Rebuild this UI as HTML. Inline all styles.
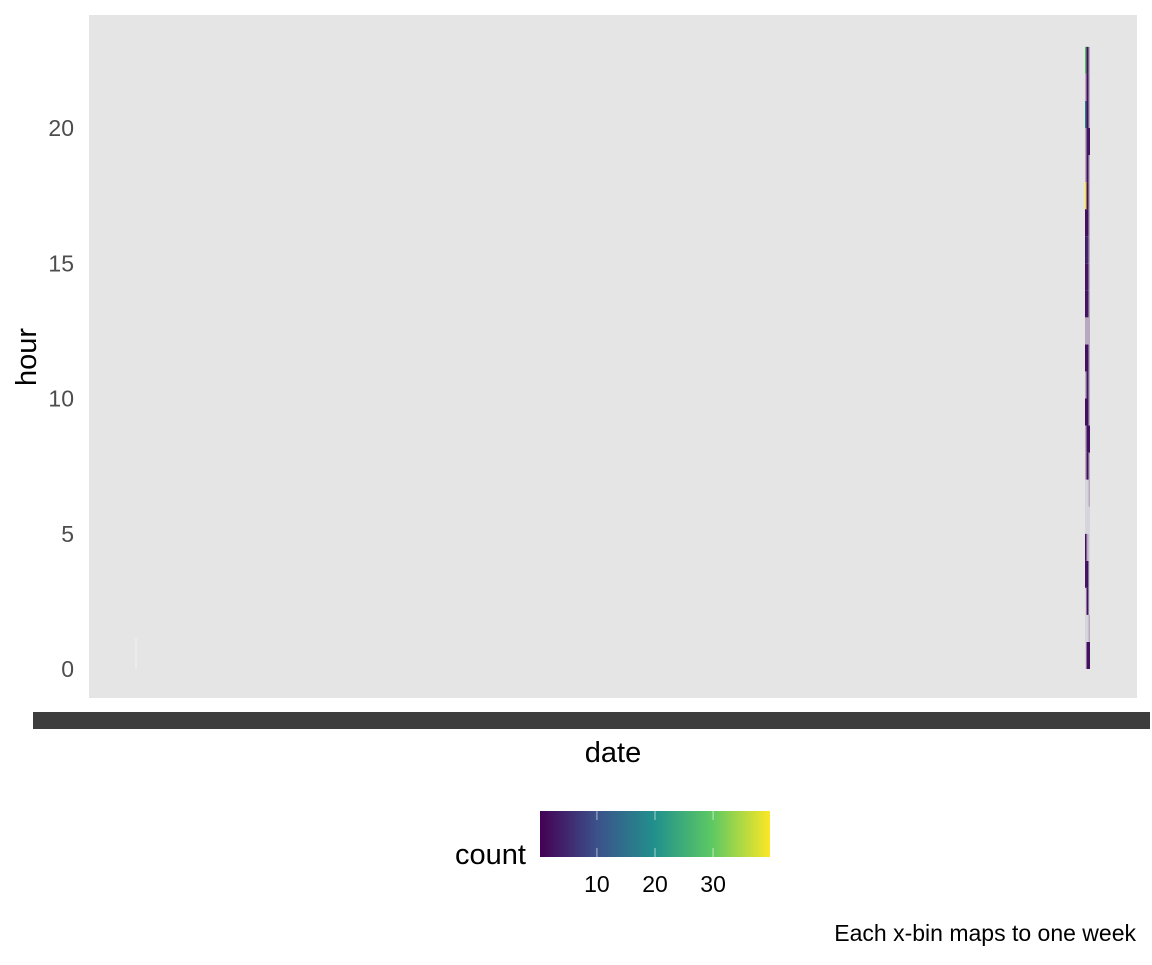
<!DOCTYPE html>
<html><head><meta charset="utf-8"><style>
body{margin:0;background:#fff;font-family:"Liberation Sans",sans-serif}
</style></head><body>
<svg id="chart" width="1152" height="960" xmlns="http://www.w3.org/2000/svg">
<defs><linearGradient id="vir" x1="0" x2="1">
<stop offset="0" stop-color="#440154"/><stop offset="0.25" stop-color="#3b528b"/><stop offset="0.5" stop-color="#21918c"/><stop offset="0.75" stop-color="#5ec962"/><stop offset="1" stop-color="#fde725"/></linearGradient></defs>
<rect x="89" y="15" width="1048" height="683" fill="#e5e5e5"/>
<g id="tiles"></g>
<line x1="136" x2="136" y1="638" y2="668" stroke="#f2f2f2" stroke-width="1"/>
<g id="yticks"></g>
<rect x="33" y="712" width="1117" height="17" fill="#3d3d3d"/>
<text x="613" y="762" font-size="29" text-anchor="middle" fill="#000">date</text>
<text x="36" y="357" font-size="29" text-anchor="middle" fill="#000" transform="rotate(-90 36 357)">hour</text>
<text x="526" y="864" font-size="29" text-anchor="end" fill="#000">count</text>
<rect x="540" y="811" width="230" height="46" fill="url(#vir)"/>
<g id="legticks"></g>
<text x="1136" y="941" font-size="23" text-anchor="end" fill="#000">Each x-bin maps to one week</text>
</svg>
<script>
const hours=[0,1,2,3,4,5,6,7,8,9,10,11,12,13,14,15,16,17,18,19,20,21,22];
const countA=[0,0,0,3,2,0,0,1,1,2,1,2,1,2,2,3,2,39,1,1,17,1,28];
const countB=[2,0,2,2,1,0,0,2,2,2,3,2,1,3,3,5,2,2,2,3,2,2,2];
const countC=[2,1,0,0,0,0,1,1,2,1,1,1,1,1,1,1,1,1,1,2,1,1,1];
const yTicks=[0,5,10,15,20];
const legTicks=[10,20,30];
const NS="http://www.w3.org/2000/svg";
const y=h=>669-h*27.05;
const lx=c=>540+(c-0.2)*(230/39.6);
function vir(c){const t=Math.max(0,Math.min(1,(c-0.2)/39.6));
const s=[[68,1,84],[59,82,139],[33,145,140],[94,201,98],[253,231,37]];
const p=t*4,i=Math.min(3,Math.floor(p)),f=p-i;
return 'rgb('+s[i].map((v,k)=>Math.round(v+(s[i+1][k]-v)*f)).join(',')+')';}
function col(c){return c<=0?'#d8d4dc':(c<2?'#b8a8c0':vir(c));}
const g=document.getElementById('tiles');
[[countA,1085,1.5],[countB,1086.5,2],[countC,1088.5,1.5]].forEach(([arr,x0,w])=>{
hours.forEach((h,i)=>{const r=document.createElementNS(NS,'rect');
r.setAttribute('x',x0);r.setAttribute('width',w);
r.setAttribute('y',y(h+1));r.setAttribute('height',27.05);
r.setAttribute('fill',col(arr[i]));


g.appendChild(r);});});
const yt=document.getElementById('yticks');
yTicks.forEach(v=>{const t=document.createElementNS(NS,'text');
t.setAttribute('x',74);t.setAttribute('y',y(v)+8);t.setAttribute('font-size',23);
t.setAttribute('text-anchor','end');t.setAttribute('fill','#4d4d4d');t.textContent=v;


yt.appendChild(t);});
const lt=document.getElementById('legticks');
legTicks.forEach(v=>{const x=lx(v);
const l=document.createElementNS(NS,'line');l.setAttribute('x1',x);l.setAttribute('x2',x);
l.setAttribute('y1',811);l.setAttribute('y2',857);l.setAttribute('stroke','#fff');l.setAttribute('stroke-opacity','0.6');
l.setAttribute('stroke-dasharray','9 28');


lt.appendChild(l);
const t=document.createElementNS(NS,'text');t.setAttribute('x',x);t.setAttribute('y',892);
t.setAttribute('font-size',23);t.setAttribute('text-anchor','middle');t.textContent=v;


lt.appendChild(t);});
</script>
</body></html>
